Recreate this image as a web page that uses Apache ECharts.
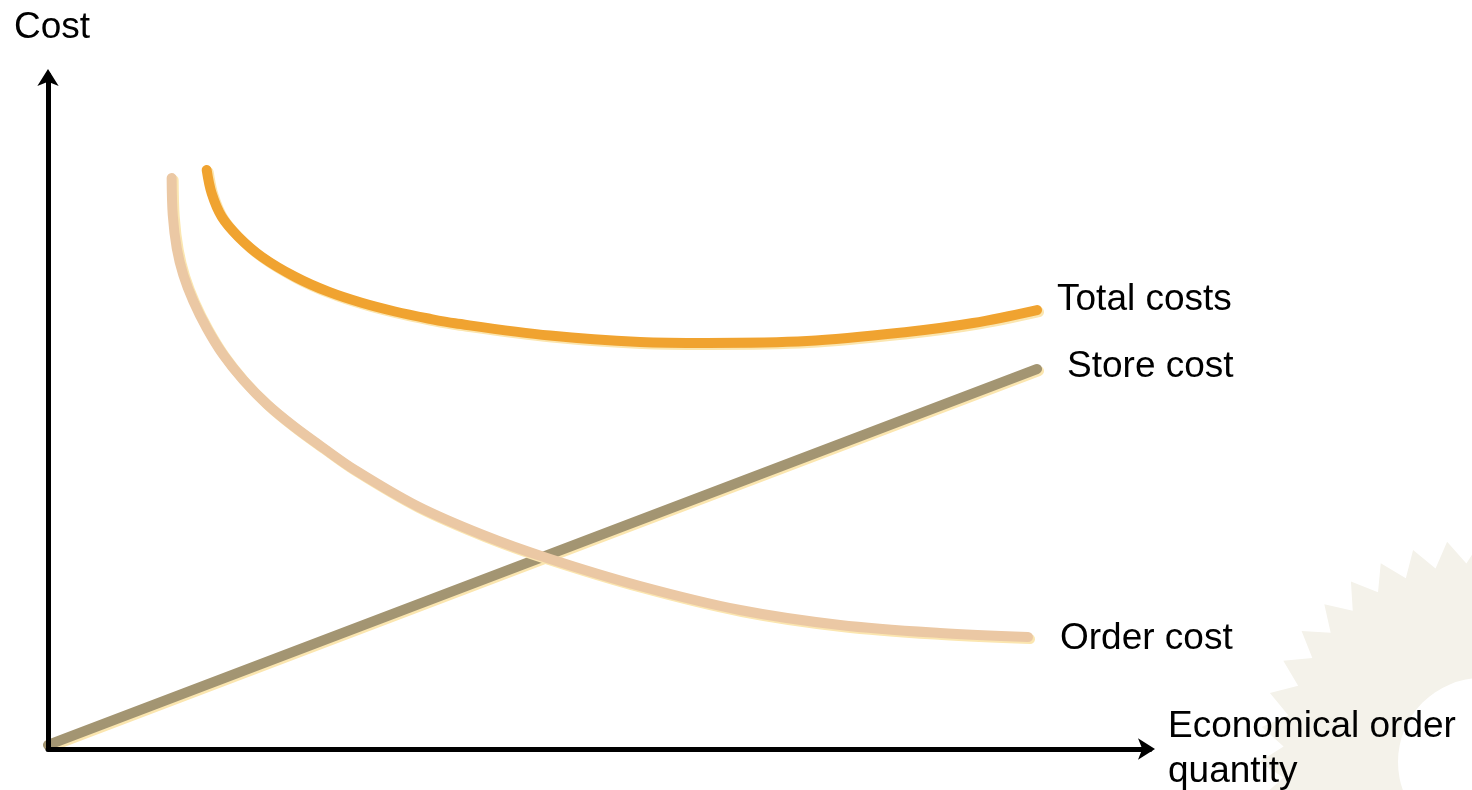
<!DOCTYPE html>
<html>
<head>
<meta charset="utf-8">
<script src="https://cdn.jsdelivr.net/npm/echarts@6/dist/echarts.min.js"></script>
<style>html,body{margin:0;padding:0;background:#fff}#c{width:1472px;height:790px}</style>
</head>
<body>
<div id="c"></div>
<script>
// Data (abstract units: x 0..100 quantity, y 0..100 cost)
const orderCostX = [11.22, 11.32, 11.68, 12.28, 13.18, 14.40, 15.91, 17.72, 19.85, 22.26, 24.86, 27.86, 33.48, 39.47, 45.28, 53.72, 62.79, 71.87, 80.94, 88.93];
const orderCostY = [84.72, 79.23, 74.33, 70.33, 66.47, 62.46, 58.46, 54.75, 51.19, 47.92, 44.81, 41.39, 36.05, 31.75, 28.34, 24.18, 20.62, 18.40, 17.21, 16.62];
const storeCostX = [0, 89.75];
const storeCostY = [0.6, 56.38];
const totalCostX = [14.40, 14.85, 15.76, 17.27, 19.39, 22.41, 25.44, 28.47, 31.49, 34.51, 36.93, 45.55, 53.72, 59.80, 68.87, 77.95, 83.94, 89.75];
const totalCostY = [85.91, 82.45, 78.98, 76.01, 73.04, 70.07, 67.85, 66.20, 64.91, 63.87, 63.16, 61.34, 60.40, 60.25, 60.53, 61.87, 63.20, 65.13];
const seriesNames = ['Total costs', 'Store cost', 'Order cost'];
const axisNames = ['Economical order\nquantity', 'Cost'];

function pairs(xs, ys) { return xs.map((x, i) => [x, ys[i]]); }

const font = 'Liberation Sans, Arial, sans-serif';
const shadowYellow = '#FBE6B0';

// decorative sun/gear in bottom right corner
function gearPoints(cx, cy, rOut, rIn, n) {
  const pts = [];
  for (let i = 0; i < n * 2; i++) {
    const a = Math.PI * i / n;
    const r = i % 2 === 0 ? rOut : rIn;
    pts.push([cx + r * Math.sin(a), cy - r * Math.cos(a)]);
  }
  return pts;
}

const chart = echarts.init(document.getElementById('c'), null, {renderer: 'canvas'});

function lineSeries(name, data, color, labelOffset) {
  return {
    name: name,
    type: 'line',
    data: data,
    smooth: 0.35,
    showSymbol: false,
    symbol: 'none',
    z: 5,
    lineStyle: {
      color: color, width: 10, cap: 'round', join: 'round',
      shadowColor: shadowYellow, shadowOffsetX: 2, shadowOffsetY: 2, shadowBlur: 0
    },
    endLabel: {
      show: true, formatter: '{a}', color: '#000', fontSize: 37, fontFamily: font,
      offset: labelOffset, distance: 0
    },
    emphasis: {disabled: true}
  };
}

chart.setOption({
  animation: false,
  backgroundColor: '#fff',
  grid: {left: 48, right: 322, top: 75, bottom: 41, containLabel: false, outerBoundsMode: 'none'},
  graphic: [
    {type: 'polygon', z: -10, silent: true,
      shape: {points: gearPoints(1482, 762, 223, 199, 40)},
      style: {fill: '#F4F2EA'}},
    {type: 'circle', z: -9, silent: true,
      shape: {cx: 1482, cy: 762, r: 84}, style: {fill: '#fff'}}
  ],
  xAxis: {
    type: 'value', min: 0, max: 100, z: 10,
    name: axisNames[0], nameLocation: 'end', nameGap: 18,
    nameTextStyle: {
      color: '#000', fontSize: 37, fontFamily: font, align: 'left', verticalAlign: 'middle',
      lineHeight: 45, textShadowColor: shadowYellow, textShadowOffsetX: 2, textShadowOffsetY: 2, textShadowBlur: 0
    },
    axisLine: {show: true, onZero: false, symbol: ['none', 'arrow'], symbolSize: [16, 17],
      symbolOffset: [0, 5], lineStyle: {color: '#000', width: 5}},
    axisTick: {show: false}, axisLabel: {show: false}, splitLine: {show: false}
  },
  yAxis: {
    type: 'value', min: 0, max: 100, z: 10,
    name: axisNames[1], nameLocation: 'end', nameGap: 29,
    nameTextStyle: {
      color: '#000', fontSize: 37, fontFamily: font, align: 'center', verticalAlign: 'bottom',
      padding: [0, 0, 0, 8],
      textShadowColor: shadowYellow, textShadowOffsetX: 2, textShadowOffsetY: 2, textShadowBlur: 0
    },
    axisLine: {show: true, onZero: false, symbol: ['none', 'arrow'], symbolSize: [16, 17],
      symbolOffset: [0, 6], lineStyle: {color: '#000', width: 5}},
    axisTick: {show: false}, axisLabel: {show: false}, splitLine: {show: false}
  },
  series: [
    lineSeries(seriesNames[0], pairs(totalCostX, totalCostY), '#F0A330', [20, -10]),
    lineSeries(seriesNames[1], pairs(storeCostX, storeCostY), '#A39572', [30, -2]),
    lineSeries(seriesNames[2], pairs(orderCostX, orderCostY), '#EBC8A4', [32, 2])
  ]
});
</script>
</body>
</html>
